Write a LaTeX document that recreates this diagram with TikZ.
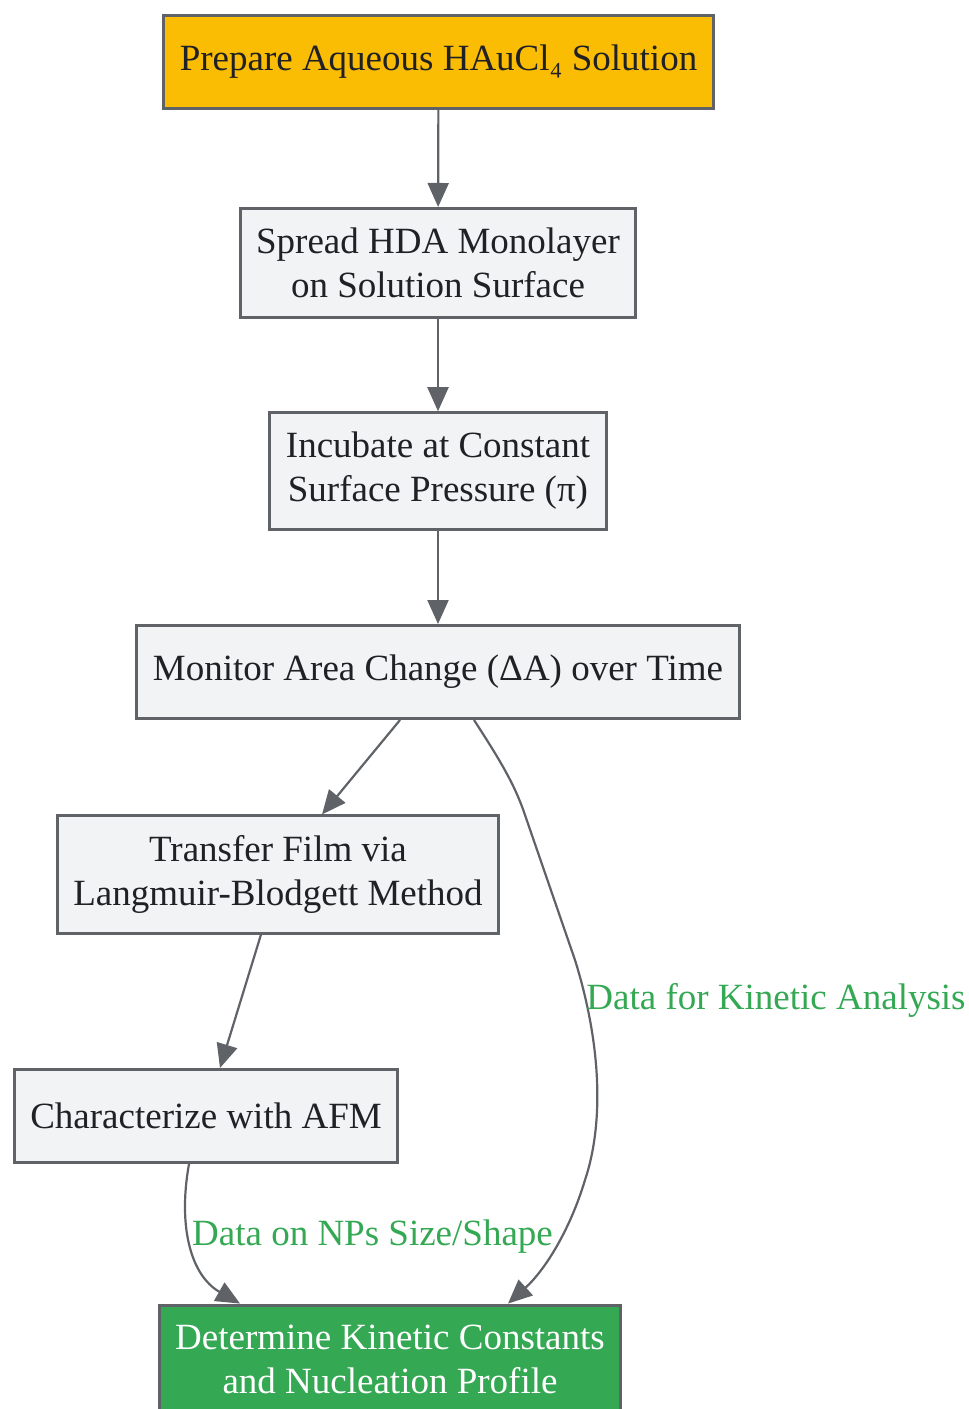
\documentclass[tikz,border=0pt]{standalone}
\usepackage{fontspec}
\setmainfont{Liberation Serif}
\usetikzlibrary{arrows.meta}
\definecolor{edgegrey}{HTML}{5F6368}
\definecolor{boxfill}{HTML}{F1F3F4}
\definecolor{startfill}{HTML}{FBBC04}
\definecolor{endfill}{HTML}{34A853}
\definecolor{txt}{HTML}{202124}
\tikzset{
    stepbox/.style={draw=edgegrey, line width=3pt, fill=boxfill, text=txt, align=center,
        inner xsep=16pt, inner ysep=19.5pt, minimum height=93pt,
        font=\fontsize{37}{44}\selectfont},
    startbox/.style={stepbox, fill=startfill},
    endbox/.style={stepbox, fill=endfill, text=white},
    flow/.style={draw=edgegrey, line width=2.2pt, -{Triangle[length=24pt, width=21pt]}},
    lbl/.style={text=endfill, inner sep=0pt, font=\fontsize{37}{44}\selectfont}
}
\begin{document}
\begin{tikzpicture}[x=1pt, y=-1pt]
        \useasboundingbox (0, 0) rectangle (969, 1409);
        \node[startbox, minimum width=544pt] (prep) at (438.5, 61.5) {Prepare Aqueous HAuCl₄ Solution};
        \node[stepbox] (spread) at (438, 263) {Spread HDA Monolayer\\on Solution Surface};
        \node[stepbox] (incub) at (438, 471) {Incubate at Constant\\Surface Pressure (π)};
        \node[stepbox] (monit) at (438, 672) {Monitor Area Change (ΔA) over Time};
        \node[stepbox] (trans) at (278, 874.5) {Transfer Film via\\Langmuir-Blodgett Method};
        \node[stepbox] (afm) at (206, 1116) {Characterize with AFM};
        \node[endbox] (kin) at (390, 1359) {Determine Kinetic Constants\\and Nucleation Profile};
        \draw[flow] (prep) -- (spread);
        \draw[flow] (spread) -- (incub);
        \draw[flow] (incub) -- (monit);
        \draw[flow] ([xshift=-38pt]monit.south) -- ([xshift=44pt]trans.north);
        \draw[flow] ([xshift=-17pt]trans.south) -- ([xshift=14pt]afm.north);
        \draw[flow] ([xshift=-17pt]afm.south) .. controls (178, 1225) and (190, 1275) .. ([xshift=-150pt]kin.north);
        \draw[flow] ([xshift=36pt]monit.south) .. controls (500, 760) and (515, 785) .. (525, 815) -- (575, 960)
            .. controls (600, 1040) and (605, 1120) .. (585, 1180)
            .. controls (570, 1230) and (545, 1270) .. ([xshift=118pt]kin.north);
        \node[lbl] (kinlbl) at (776, 1000) {Data for Kinetic Analysis};
        \node[lbl] (afmlbl) at (372.5, 1237) {Data on NPs Size/Shape};
    \end{tikzpicture}
\end{document}
